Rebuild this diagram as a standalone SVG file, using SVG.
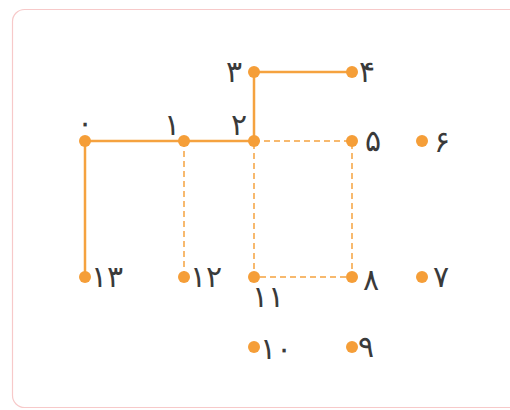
<svg xmlns="http://www.w3.org/2000/svg" width="510" height="410" viewBox="0 0 510 410">
<style>
.s{stroke:#f5a23f;stroke-width:2.5;fill:none}
.d{stroke:#f5a23f;stroke-width:1.5;fill:none;stroke-dasharray:6 4}
.n{fill:#f59e38}
.t{font-family:"DejaVu Sans",sans-serif;font-size:30px;font-weight:200;fill:#3a3a3a}
</style>
<rect x="12.5" y="9.5" width="510" height="398" rx="12" fill="#fff" stroke="#f7c9c9" stroke-width="1.2"/>
<g id="connectors">
<path class="s" d="M85 141H254M85 141V277M254 141V72H352"/>
<path class="d" d="M254 141H352V277H254V141M184 141V277"/>
</g>
<g id="n0"><circle class="n" cx="85" cy="141" r="6"/><text class="t" x="85" y="133" text-anchor="middle">۰</text></g>
<g id="n1"><circle class="n" cx="184" cy="141" r="6"/><text class="t" x="172" y="135" text-anchor="middle">۱</text></g>
<g id="n2"><circle class="n" cx="254" cy="141" r="6"/><text class="t" x="239" y="135" text-anchor="middle">۲</text></g>
<g id="n3"><circle class="n" cx="254" cy="72" r="6"/><text class="t" x="234" y="82" text-anchor="middle">۳</text></g>
<g id="n4"><circle class="n" cx="352" cy="72" r="6"/><text class="t" x="367" y="82" text-anchor="middle">۴</text></g>
<g id="n5"><circle class="n" cx="352" cy="141" r="6"/><text class="t" x="373" y="151" text-anchor="middle">۵</text></g>
<g id="n6"><circle class="n" cx="422" cy="141" r="6"/><text class="t" x="442" y="152" text-anchor="middle">۶</text></g>
<g id="n7"><circle class="n" cx="422" cy="277" r="6"/><text class="t" x="441" y="287" text-anchor="middle">۷</text></g>
<g id="n8"><circle class="n" cx="352" cy="277" r="6"/><text class="t" x="371" y="290" text-anchor="middle">۸</text></g>
<g id="n9"><circle class="n" cx="352" cy="347" r="6"/><text class="t" x="366" y="357" text-anchor="middle">۹</text></g>
<g id="n10"><circle class="n" cx="254" cy="347" r="6"/><text class="t" x="276" y="359" text-anchor="middle">۱۰</text></g>
<g id="n11"><circle class="n" cx="254" cy="277" r="6"/><text class="t" x="268" y="307" text-anchor="middle">۱۱</text></g>
<g id="n12"><circle class="n" cx="184" cy="277" r="6"/><text class="t" x="206" y="287" text-anchor="middle">۱۲</text></g>
<g id="n13"><circle class="n" cx="85" cy="277" r="6"/><text class="t" x="107" y="287" text-anchor="middle">۱۳</text></g>
</svg>
